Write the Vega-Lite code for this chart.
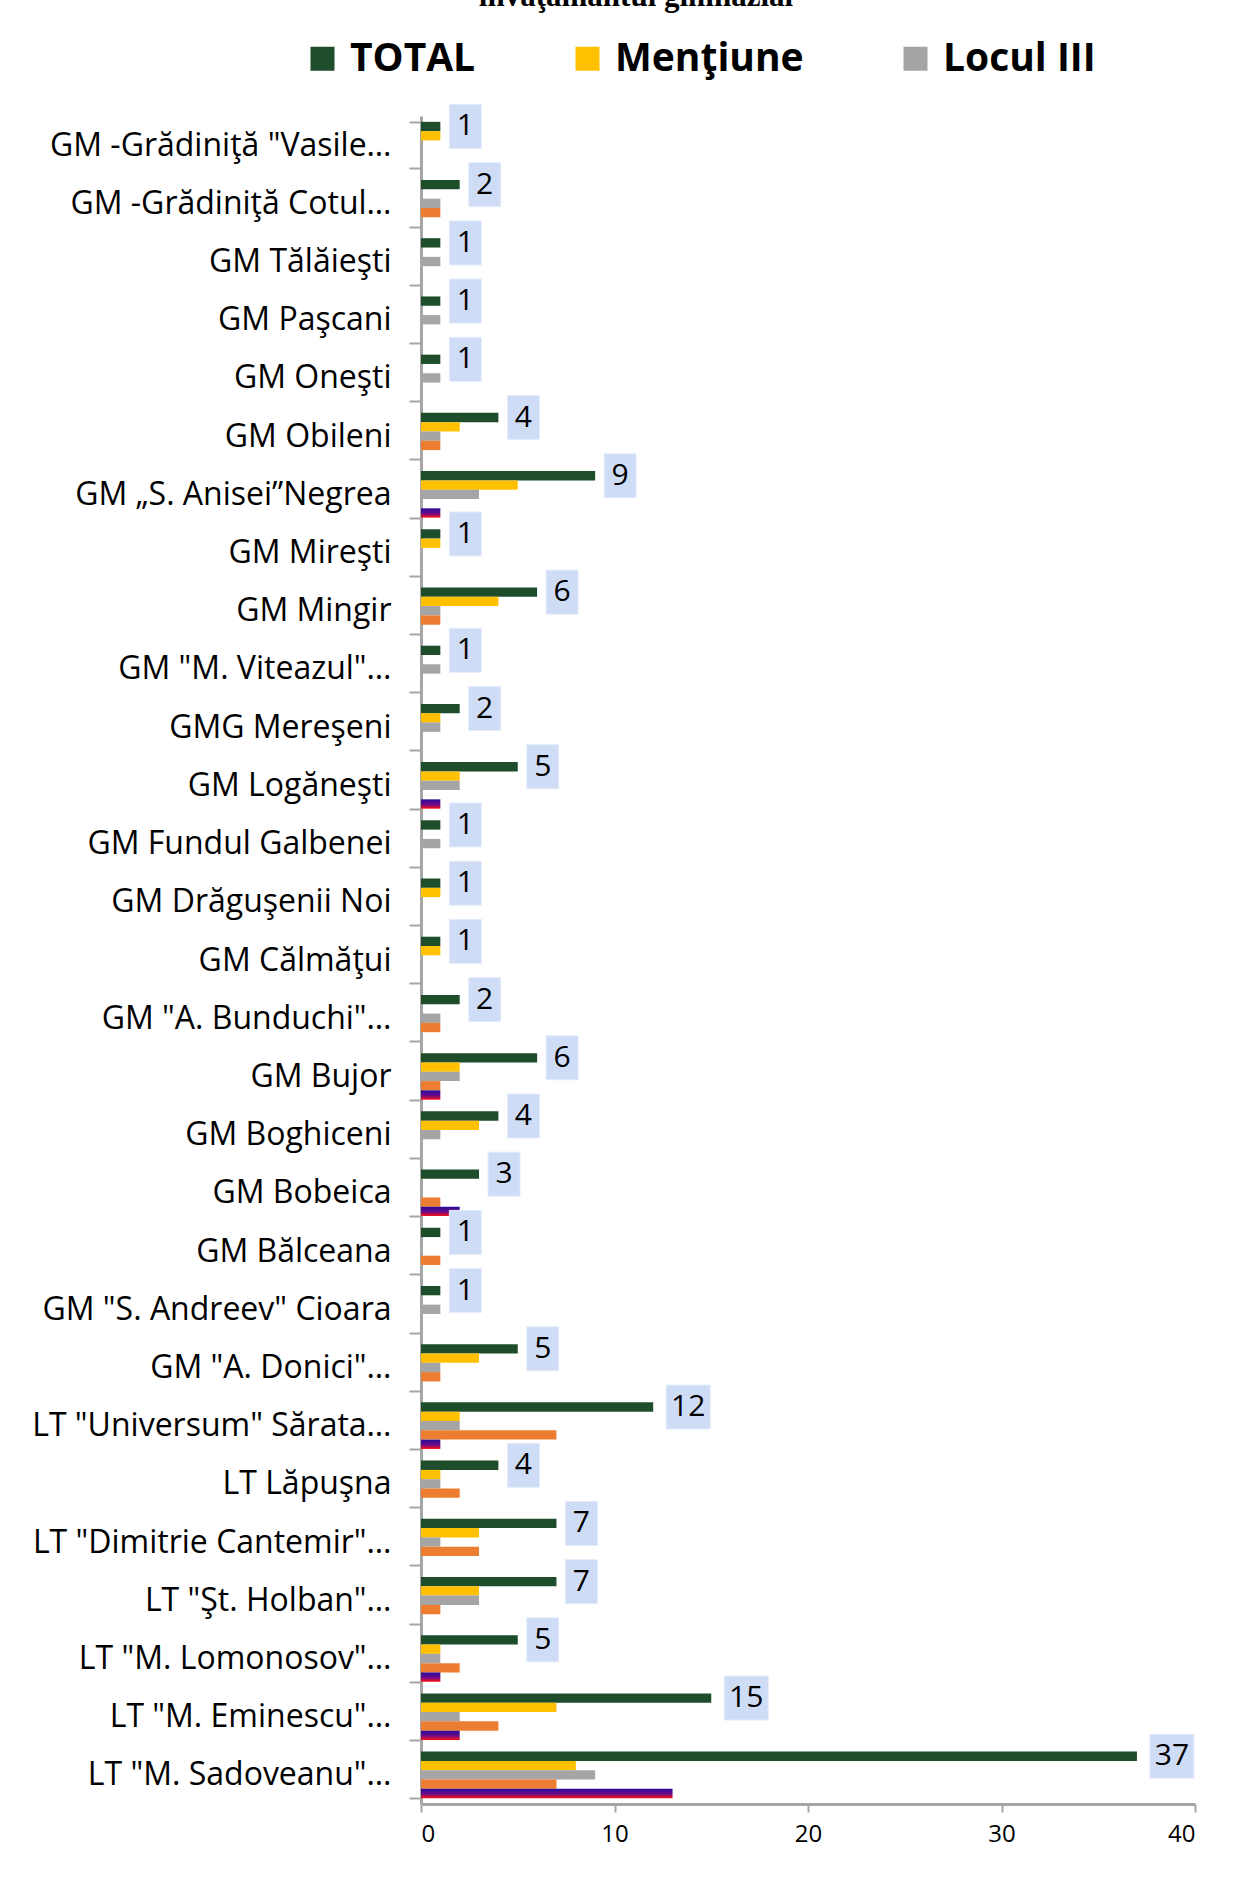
{
  "$schema": "https://vega.github.io/schema/vega-lite/v6.json",
  "autosize": {"type": "none"},
  "padding": {"left": 421, "top": 116, "right": 56, "bottom": 93},
  "width": 774,
  "height": 1688,
  "background": "#ffffff",
  "title": {
    "text": "învăţământul gimnazial",
    "font": "Liberation Serif",
    "fontWeight": "bold",
    "fontSize": 31,
    "anchor": "middle",
    "dx": -172,
    "offset": 26,
    "color": "#000000"
  },
  "config": {
    "view": {"stroke": null},
    "font": "Open Sans"
  },
  "datasets": {
    "d": [
      {"school": "GM -Grădiniţă \"Vasile…", "series": "TOTAL", "value": 1},
      {"school": "GM -Grădiniţă \"Vasile…", "series": "Menţiune", "value": 1},
      {"school": "GM -Grădiniţă Cotul…", "series": "TOTAL", "value": 2},
      {"school": "GM -Grădiniţă Cotul…", "series": "Locul III", "value": 1},
      {"school": "GM -Grădiniţă Cotul…", "series": "Locul II", "value": 1},
      {"school": "GM Tălăieşti", "series": "TOTAL", "value": 1},
      {"school": "GM Tălăieşti", "series": "Locul III", "value": 1},
      {"school": "GM Paşcani", "series": "TOTAL", "value": 1},
      {"school": "GM Paşcani", "series": "Locul III", "value": 1},
      {"school": "GM Oneşti", "series": "TOTAL", "value": 1},
      {"school": "GM Oneşti", "series": "Locul III", "value": 1},
      {"school": "GM Obileni", "series": "TOTAL", "value": 4},
      {"school": "GM Obileni", "series": "Menţiune", "value": 2},
      {"school": "GM Obileni", "series": "Locul III", "value": 1},
      {"school": "GM Obileni", "series": "Locul II", "value": 1},
      {"school": "GM „S. Anisei”Negrea", "series": "TOTAL", "value": 9},
      {"school": "GM „S. Anisei”Negrea", "series": "Menţiune", "value": 5},
      {"school": "GM „S. Anisei”Negrea", "series": "Locul III", "value": 3},
      {"school": "GM „S. Anisei”Negrea", "series": "Locul I", "value": 1},
      {"school": "GM Mireşti", "series": "TOTAL", "value": 1},
      {"school": "GM Mireşti", "series": "Menţiune", "value": 1},
      {"school": "GM  Mingir", "series": "TOTAL", "value": 6},
      {"school": "GM  Mingir", "series": "Menţiune", "value": 4},
      {"school": "GM  Mingir", "series": "Locul III", "value": 1},
      {"school": "GM  Mingir", "series": "Locul II", "value": 1},
      {"school": "GM \"M. Viteazul\"…", "series": "TOTAL", "value": 1},
      {"school": "GM \"M. Viteazul\"…", "series": "Locul III", "value": 1},
      {"school": "GMG Mereşeni", "series": "TOTAL", "value": 2},
      {"school": "GMG Mereşeni", "series": "Menţiune", "value": 1},
      {"school": "GMG Mereşeni", "series": "Locul III", "value": 1},
      {"school": "GM Logăneşti", "series": "TOTAL", "value": 5},
      {"school": "GM Logăneşti", "series": "Menţiune", "value": 2},
      {"school": "GM Logăneşti", "series": "Locul III", "value": 2},
      {"school": "GM Logăneşti", "series": "Locul I", "value": 1},
      {"school": "GM Fundul Galbenei", "series": "TOTAL", "value": 1},
      {"school": "GM Fundul Galbenei", "series": "Locul III", "value": 1},
      {"school": "GM Drăguşenii Noi", "series": "TOTAL", "value": 1},
      {"school": "GM Drăguşenii Noi", "series": "Menţiune", "value": 1},
      {"school": "GM Călmăţui", "series": "TOTAL", "value": 1},
      {"school": "GM Călmăţui", "series": "Menţiune", "value": 1},
      {"school": "GM \"A. Bunduchi\"…", "series": "TOTAL", "value": 2},
      {"school": "GM \"A. Bunduchi\"…", "series": "Locul III", "value": 1},
      {"school": "GM \"A. Bunduchi\"…", "series": "Locul II", "value": 1},
      {"school": "GM Bujor", "series": "TOTAL", "value": 6},
      {"school": "GM Bujor", "series": "Menţiune", "value": 2},
      {"school": "GM Bujor", "series": "Locul III", "value": 2},
      {"school": "GM Bujor", "series": "Locul II", "value": 1},
      {"school": "GM Bujor", "series": "Locul I", "value": 1},
      {"school": "GM Boghiceni", "series": "TOTAL", "value": 4},
      {"school": "GM Boghiceni", "series": "Menţiune", "value": 3},
      {"school": "GM Boghiceni", "series": "Locul III", "value": 1},
      {"school": "GM Bobeica", "series": "TOTAL", "value": 3},
      {"school": "GM Bobeica", "series": "Locul II", "value": 1},
      {"school": "GM Bobeica", "series": "Locul I", "value": 2},
      {"school": "GM Bălceana", "series": "TOTAL", "value": 1},
      {"school": "GM Bălceana", "series": "Locul II", "value": 1},
      {"school": "GM \"S. Andreev\" Cioara", "series": "TOTAL", "value": 1},
      {"school": "GM \"S. Andreev\" Cioara", "series": "Locul III", "value": 1},
      {"school": "GM \"A. Donici\"…", "series": "TOTAL", "value": 5},
      {"school": "GM \"A. Donici\"…", "series": "Menţiune", "value": 3},
      {"school": "GM \"A. Donici\"…", "series": "Locul III", "value": 1},
      {"school": "GM \"A. Donici\"…", "series": "Locul II", "value": 1},
      {"school": "LT \"Universum\" Sărata…", "series": "TOTAL", "value": 12},
      {"school": "LT \"Universum\" Sărata…", "series": "Menţiune", "value": 2},
      {"school": "LT \"Universum\" Sărata…", "series": "Locul III", "value": 2},
      {"school": "LT \"Universum\" Sărata…", "series": "Locul II", "value": 7},
      {"school": "LT \"Universum\" Sărata…", "series": "Locul I", "value": 1},
      {"school": "LT  Lăpuşna", "series": "TOTAL", "value": 4},
      {"school": "LT  Lăpuşna", "series": "Menţiune", "value": 1},
      {"school": "LT  Lăpuşna", "series": "Locul III", "value": 1},
      {"school": "LT  Lăpuşna", "series": "Locul II", "value": 2},
      {"school": "LT \"Dimitrie Cantemir\"…", "series": "TOTAL", "value": 7},
      {"school": "LT \"Dimitrie Cantemir\"…", "series": "Menţiune", "value": 3},
      {"school": "LT \"Dimitrie Cantemir\"…", "series": "Locul III", "value": 1},
      {"school": "LT \"Dimitrie Cantemir\"…", "series": "Locul II", "value": 3},
      {"school": "LT \"Şt. Holban\"…", "series": "TOTAL", "value": 7},
      {"school": "LT \"Şt. Holban\"…", "series": "Menţiune", "value": 3},
      {"school": "LT \"Şt. Holban\"…", "series": "Locul III", "value": 3},
      {"school": "LT \"Şt. Holban\"…", "series": "Locul II", "value": 1},
      {"school": "LT \"M. Lomonosov\"…", "series": "TOTAL", "value": 5},
      {"school": "LT \"M. Lomonosov\"…", "series": "Menţiune", "value": 1},
      {"school": "LT \"M. Lomonosov\"…", "series": "Locul III", "value": 1},
      {"school": "LT \"M. Lomonosov\"…", "series": "Locul II", "value": 2},
      {"school": "LT \"M. Lomonosov\"…", "series": "Locul I", "value": 1},
      {"school": "LT \"M. Eminescu\"…", "series": "TOTAL", "value": 15},
      {"school": "LT \"M. Eminescu\"…", "series": "Menţiune", "value": 7},
      {"school": "LT \"M. Eminescu\"…", "series": "Locul III", "value": 2},
      {"school": "LT \"M. Eminescu\"…", "series": "Locul II", "value": 4},
      {"school": "LT \"M. Eminescu\"…", "series": "Locul I", "value": 2},
      {"school": "LT \"M. Sadoveanu\"…", "series": "TOTAL", "value": 37},
      {"school": "LT \"M. Sadoveanu\"…", "series": "Menţiune", "value": 8},
      {"school": "LT \"M. Sadoveanu\"…", "series": "Locul III", "value": 9},
      {"school": "LT \"M. Sadoveanu\"…", "series": "Locul II", "value": 7},
      {"school": "LT \"M. Sadoveanu\"…", "series": "Locul I", "value": 13}
    ]
  },
  "data": {"name": "d"},
  "encoding": {
    "y": {
      "field": "school",
      "type": "nominal",
      "scale": {
        "domain": [
          "GM -Grădiniţă \"Vasile…", "GM -Grădiniţă Cotul…", "GM Tălăieşti", "GM Paşcani", "GM Oneşti",
          "GM Obileni", "GM „S. Anisei”Negrea", "GM Mireşti", "GM  Mingir", "GM \"M. Viteazul\"…",
          "GMG Mereşeni", "GM Logăneşti", "GM Fundul Galbenei", "GM Drăguşenii Noi", "GM Călmăţui",
          "GM \"A. Bunduchi\"…", "GM Bujor", "GM Boghiceni", "GM Bobeica", "GM Bălceana",
          "GM \"S. Andreev\" Cioara", "GM \"A. Donici\"…", "LT \"Universum\" Sărata…", "LT  Lăpuşna",
          "LT \"Dimitrie Cantemir\"…", "LT \"Şt. Holban\"…", "LT \"M. Lomonosov\"…", "LT \"M. Eminescu\"…",
          "LT \"M. Sadoveanu\"…"
        ],
        "paddingInner": 0.2,
        "paddingOuter": 0.1
      },
      "axis": {
        "title": null,
        "tickBand": "extent",
        "tickSize": 12,
        "tickColor": "#A6A6A6",
        "tickWidth": 2,
        "domainColor": "#A6A6A6",
        "domainWidth": 3,
        "labelFont": "Open Sans",
        "labelFontSize": 32,
        "labelColor": "#000000",
        "labelPadding": 18,
        "labelLimit": 420
      }
    },
    "yOffset": {
      "field": "series",
      "type": "nominal",
      "scale": {"domain": ["TOTAL", "Menţiune", "Locul III", "Locul II", "Locul I"], "paddingInner": 0, "paddingOuter": 0}
    },
    "x": {
      "field": "value",
      "type": "quantitative",
      "scale": {"domain": [0, 40], "nice": false},
      "axis": {
        "title": null,
        "grid": false,
        "values": [0, 10, 20, 30, 40],
        "tickSize": 8,
        "tickColor": "#A6A6A6",
        "tickWidth": 2,
        "domainColor": "#A6A6A6",
        "domainWidth": 3,
        "labelFont": "Open Sans",
        "labelFontSize": 24,
        "labelColor": "#000000",
        "labelPadding": 10
      }
    }
  },
  "layer": [
    {
      "transform": [{"filter": "datum.series !== 'Locul I'"}],
      "mark": {"type": "bar"},
      "encoding": {
        "color": {
          "field": "series",
          "type": "nominal",
          "scale": {"domain": ["TOTAL", "Menţiune", "Locul III", "Locul II"], "range": ["#1e4d2b", "#FFC000", "#A5A5A5", "#ED7D31"]},
          "legend": {
            "values": ["TOTAL", "Menţiune", "Locul III"],
            "title": null,
            "orient": "none",
            "direction": "horizontal",
            "legendX": -118,
            "legendY": -77,
            "symbolType": "square",
            "symbolSize": 576,
            "symbolStrokeWidth": 0,
            "labelFont": "Open Sans",
            "labelFontWeight": "bold",
            "labelFontSize": 39,
            "labelColor": "#000000",
            "labelOffset": 8,
            "columnPadding": 92,
            "labelLimit": 400
          }
        }
      }
    },
    {
      "transform": [{"filter": "datum.series === 'Locul I'"}],
      "mark": {
        "type": "bar",
        "fill": {
          "gradient": "linear",
          "x1": 0, "y1": 0, "x2": 0, "y2": 1,
          "stops": [
            {"offset": 0, "color": "#2a0a9a"},
            {"offset": 0.55, "color": "#6a0a8a"},
            {"offset": 1, "color": "#ff1010"}
          ]
        }
      }
    },
    {
      "transform": [{"filter": "datum.series === 'TOTAL' && datum.value < 10"}],
      "mark": {"type": "point", "filled": true, "shape": "M-0.727,-1H0.727V1H-0.727Z", "size": 1936, "fill": "#cfdcf6", "stroke": "#e4ecfb", "strokeWidth": 1, "opacity": 1, "xOffset": 25}
    },
    {
      "transform": [{"filter": "datum.series === 'TOTAL' && datum.value >= 10"}],
      "mark": {"type": "point", "filled": true, "shape": "M-1,-1H1V1H-1Z", "size": 1936, "fill": "#cfdcf6", "stroke": "#e4ecfb", "strokeWidth": 1, "opacity": 1, "xOffset": 35}
    },
    {
      "transform": [{"filter": "datum.series === 'TOTAL' && datum.value < 10"}],
      "mark": {"type": "text", "dx": 25, "align": "center", "baseline": "middle", "font": "Open Sans", "fontSize": 30, "color": "#000000"},
      "encoding": {"text": {"field": "value", "type": "quantitative"}}
    },
    {
      "transform": [{"filter": "datum.series === 'TOTAL' && datum.value >= 10"}],
      "mark": {"type": "text", "dx": 35, "align": "center", "baseline": "middle", "font": "Open Sans", "fontSize": 30, "color": "#000000"},
      "encoding": {"text": {"field": "value", "type": "quantitative"}}
    }
  ]
}
